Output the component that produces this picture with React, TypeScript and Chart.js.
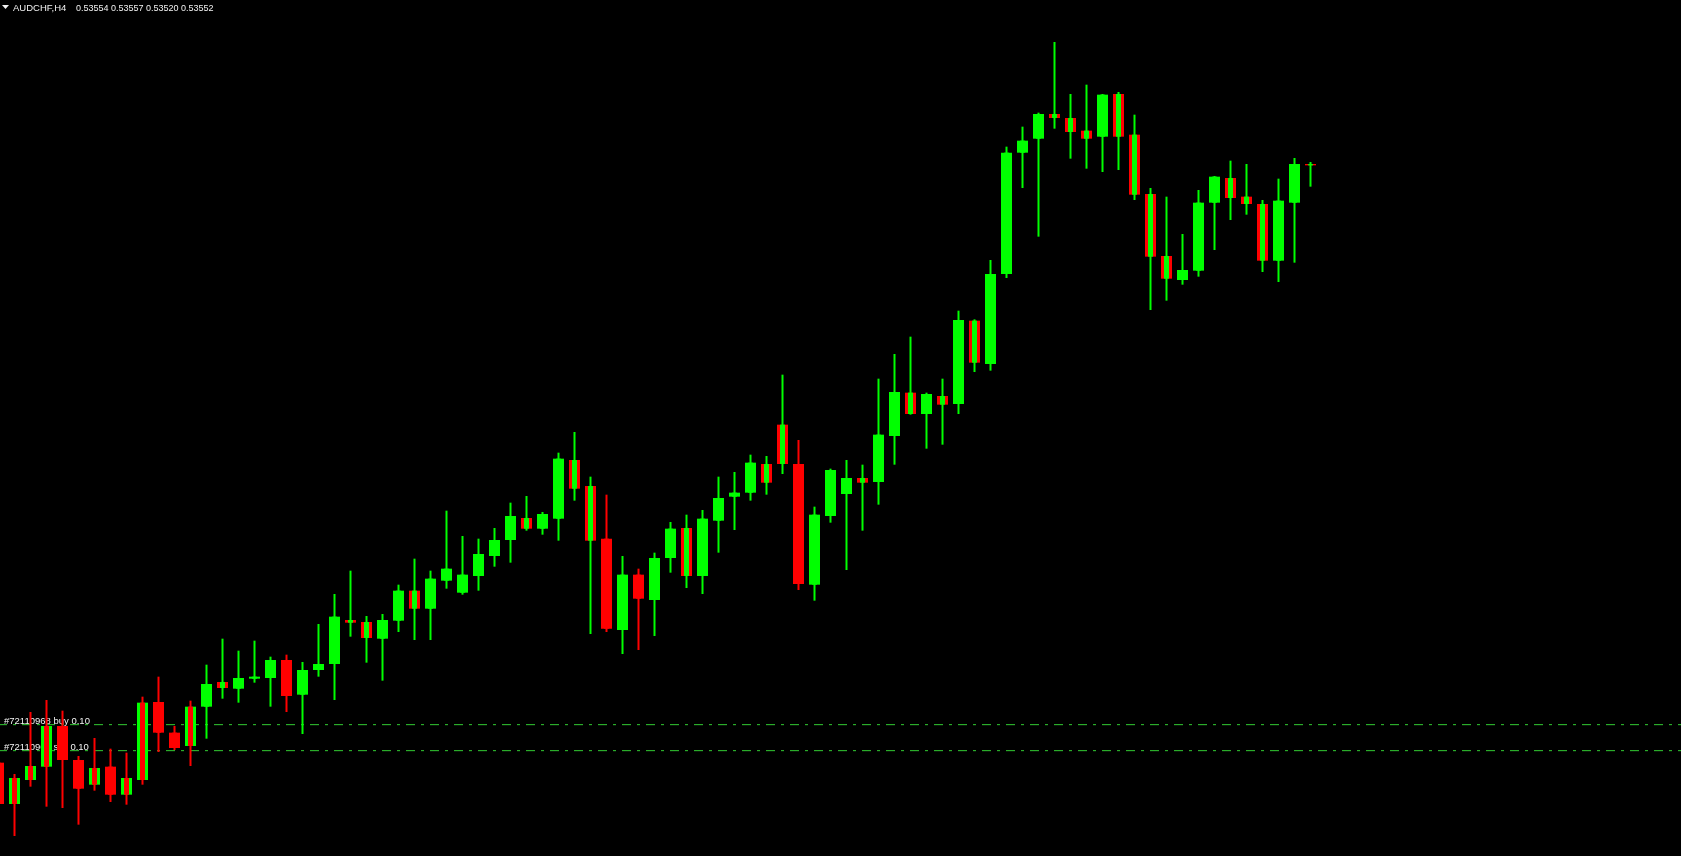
import { useEffect, useRef } from "react";
import { Chart, registerables } from "chart.js";

Chart.register(...registerables);

// ---- data (AUDCHF, H4) ----
const SYMBOL = "AUDCHF,H4";

const OPEN = [
  0.52656, 0.52594, 0.52630, 0.52650, 0.52711, 0.52660, 0.52623, 0.52650, 0.52608, 0.52630,
  0.52747, 0.52701, 0.52681, 0.52740, 0.52777, 0.52767, 0.52782, 0.52783, 0.52810, 0.52758,
  0.52795, 0.52804, 0.52870, 0.52867, 0.52842, 0.52869, 0.52914, 0.52887, 0.52929, 0.52911,
  0.52936, 0.52966, 0.52990, 0.53023, 0.53007, 0.53022, 0.53110, 0.53071, 0.52992, 0.52855,
  0.52938, 0.52900, 0.52963, 0.53008, 0.52936, 0.53019, 0.53055, 0.53061, 0.53104, 0.53163,
  0.53104, 0.52923, 0.53026, 0.53059, 0.53083, 0.53077, 0.53146, 0.53211, 0.53179, 0.53206,
  0.53194, 0.53319, 0.53254, 0.53389, 0.53571, 0.53592, 0.53629, 0.53623, 0.53604, 0.53595,
  0.53659, 0.53598, 0.53509, 0.53416, 0.53380, 0.53394, 0.53496, 0.53533, 0.53505, 0.53494,
  0.53409, 0.53496, 0.53554,
];

const HIGH = [
  0.52668, 0.52639, 0.52732, 0.52750, 0.52734, 0.52666, 0.52693, 0.52677, 0.52671, 0.52755,
  0.52785, 0.52711, 0.52749, 0.52803, 0.52842, 0.52824, 0.52839, 0.52815, 0.52818, 0.52807,
  0.52864, 0.52909, 0.52944, 0.52876, 0.52879, 0.52923, 0.52962, 0.52944, 0.53034, 0.52996,
  0.52992, 0.53008, 0.53046, 0.53056, 0.53032, 0.53121, 0.53152, 0.53085, 0.53058, 0.52966,
  0.52947, 0.52971, 0.53017, 0.53028, 0.53035, 0.53085, 0.53092, 0.53118, 0.53116, 0.53238,
  0.53140, 0.53040, 0.53097, 0.53110, 0.53103, 0.53232, 0.53269, 0.53295, 0.53211, 0.53232,
  0.53334, 0.53321, 0.53410, 0.53580, 0.53610, 0.53631, 0.53737, 0.53659, 0.53673, 0.53659,
  0.53662, 0.53628, 0.53518, 0.53505, 0.53449, 0.53515, 0.53536, 0.53559, 0.53554, 0.53500,
  0.53532, 0.53563, 0.53557,
];

const LOW = [
  0.52582, 0.52546, 0.52620, 0.52590, 0.52588, 0.52563, 0.52614, 0.52597, 0.52593, 0.52623,
  0.52672, 0.52675, 0.52651, 0.52692, 0.52752, 0.52746, 0.52776, 0.52740, 0.52732, 0.52699,
  0.52785, 0.52750, 0.52845, 0.52806, 0.52779, 0.52852, 0.52840, 0.52840, 0.52917, 0.52908,
  0.52914, 0.52950, 0.52956, 0.53004, 0.52998, 0.52989, 0.53049, 0.52849, 0.52852, 0.52819,
  0.52825, 0.52846, 0.52941, 0.52918, 0.52909, 0.52971, 0.53005, 0.53049, 0.53058, 0.53089,
  0.52915, 0.52899, 0.53016, 0.52945, 0.53004, 0.53043, 0.53103, 0.53178, 0.53127, 0.53133,
  0.53179, 0.53242, 0.53244, 0.53383, 0.53518, 0.53445, 0.53607, 0.53562, 0.53547, 0.53542,
  0.53545, 0.53500, 0.53335, 0.53349, 0.53373, 0.53385, 0.53425, 0.53470, 0.53478, 0.53392,
  0.53377, 0.53406, 0.53520,
];

const CLOSE = [
  0.52594, 0.52633, 0.52651, 0.52711, 0.52660, 0.52617, 0.52648, 0.52608, 0.52633, 0.52746,
  0.52701, 0.52678, 0.52740, 0.52774, 0.52768, 0.52783, 0.52785, 0.52810, 0.52756, 0.52795,
  0.52804, 0.52875, 0.52866, 0.52843, 0.52870, 0.52914, 0.52887, 0.52932, 0.52947, 0.52938,
  0.52969, 0.52990, 0.53026, 0.53007, 0.53029, 0.53112, 0.53067, 0.52989, 0.52857, 0.52938,
  0.52902, 0.52963, 0.53007, 0.52936, 0.53022, 0.53053, 0.53061, 0.53106, 0.53076, 0.53104,
  0.52924, 0.53028, 0.53095, 0.53083, 0.53076, 0.53148, 0.53212, 0.53179, 0.53209, 0.53193,
  0.53320, 0.53256, 0.53389, 0.53571, 0.53589, 0.53629, 0.53623, 0.53602, 0.53592, 0.53658,
  0.53595, 0.53508, 0.53415, 0.53382, 0.53395, 0.53496, 0.53535, 0.53503, 0.53494, 0.53409,
  0.53499, 0.53554, 0.53552,
];

// colour of the wick / centre stripe (1 = up signal, -1 = down signal)
const SIGNAL = [
  -1, -1, -1, -1, -1, -1, -1, -1, -1, -1,
  -1, -1, -1, 1, 1, 1, 1, 1, -1, 1,
  1, 1, 1, 1, 1, 1, 1, 1, 1, 1,
  1, 1, 1, 1, 1, 1, 1, 1, -1, 1,
  -1, 1, 1, 1, 1, 1, 1, 1, 1, 1,
  -1, 1, 1, 1, 1, 1, 1, 1, 1, 1,
  1, 1, 1, 1, 1, 1, 1, 1, 1, 1,
  1, 1, 1, 1, 1, 1, 1, 1, 1, 1,
  1, 1, 1,
];

const ORDER_LABELS = ["#72110968 buy 0.10", "#72110969 sell 0.10"];
const ORDER_PRICES = [0.52713, 0.52674];

// visible window of the chart
const X_MIN = 0.09375;
const X_MAX = X_MIN + 1681 / 16;
const Y_MAX = 0.538;
const Y_MIN = 0.52516;

const GREEN = "#00ff00";
const RED = "#ff0000";
const LINE_GREEN = "#32cd32";
const TEXT = "#f2f2f2";

export default function App() {
  const ref = useRef<HTMLCanvasElement>(null);

  useEffect(() => {
    document.body.style.margin = "0";
    document.body.style.background = "#000";
    const canvas = ref.current;
    if (!canvas) return;

    const idx = OPEN.map((_, i) => i);
    const bodyData = idx.map((i) => ({ x: i, y: [OPEN[i], CLOSE[i]] }));
    const wickData = idx.map((i) => ({ x: i, y: [LOW[i], HIGH[i]] }));
    const dirColor = (c: any) =>
      CLOSE[c.dataIndex] >= OPEN[c.dataIndex] ? GREEN : RED;
    const sigColor = (c: any) => (SIGNAL[c.dataIndex] > 0 ? GREEN : RED);

    const lineSets = ORDER_PRICES.map((p) => ({
      type: "line" as const,
      data: [
        { x: X_MIN, y: p },
        { x: X_MAX, y: p },
      ],
      borderColor: LINE_GREEN,
      borderWidth: 1,
      borderDash: [9, 6, 3, 6],
      borderDashOffset: 2,
      pointRadius: 0,
      fill: false,
      order: 10,
    }));

    const textPlugin = {
      id: "mt4text",
      beforeDatasetsDraw(chart: any) {
        const ctx = chart.ctx;
        const y = chart.scales.y;
        ctx.save();
        ctx.font = '9.5px "Liberation Sans", Arial, sans-serif';
        ctx.fillStyle = TEXT;
        ctx.textBaseline = "alphabetic";
        ORDER_LABELS.forEach((t, i) => {
          const py = y.getPixelForValue(ORDER_PRICES[i]);
          ctx.fillText(t, 4, Math.round(py) - 1);
        });
        ctx.restore();
      },
      afterDraw(chart: any) {
        const ctx = chart.ctx;
        ctx.save();
        ctx.fillStyle = TEXT;
        ctx.beginPath();
        ctx.moveTo(2, 5);
        ctx.lineTo(9, 5);
        ctx.lineTo(5.5, 9);
        ctx.closePath();
        ctx.fill();
        ctx.font = '9.5px "Liberation Sans", Arial, sans-serif';
        ctx.textBaseline = "alphabetic";
        ctx.fillText(SYMBOL, 13, 11);
        ctx.font = '9px "Liberation Sans", Arial, sans-serif';
        const vals = [OPEN, HIGH, LOW, CLOSE].map((a) => a[a.length - 1].toFixed(5));
        vals.forEach((v, i) => ctx.fillText(v, 76 + 35 * i, 11));
        ctx.restore();
      },
    };

    const chart = new Chart(canvas, {
      type: "bar",
      data: {
        datasets: [
          ...lineSets,
          {
            type: "bar",
            data: bodyData as any,
            backgroundColor: dirColor,
            barThickness: 11,
            grouped: false,
            borderWidth: 0,
            inflateAmount: 0,
            order: 5,
          },
          {
            type: "bar",
            data: bodyData as any,
            backgroundColor: sigColor,
            barThickness: 5,
            grouped: false,
            borderWidth: 0,
            inflateAmount: 0,
            order: 4,
          },
          {
            type: "bar",
            data: wickData as any,
            backgroundColor: sigColor,
            barThickness: 2,
            grouped: false,
            borderWidth: 0,
            inflateAmount: 0,
            order: 3,
          },
        ] as any,
      },
      options: {
        animation: false,
        responsive: false,
        layout: { padding: 0 },
        plugins: {
          legend: { display: false },
          title: { display: false },
          tooltip: { enabled: false },
        },
        scales: {
          x: { type: "linear", min: X_MIN, max: X_MAX, display: false, offset: false, grace: 0 },
          y: { type: "linear", min: Y_MIN, max: Y_MAX, display: false, grace: 0 },
        },
      },
      plugins: [textPlugin],
    });

    return () => chart.destroy();
  }, []);

  return (
    <div
      style={{
        position: "fixed",
        left: 0,
        top: 0,
        width: 1681,
        height: 856,
        background: "#000",
      }}
    >
      <canvas ref={ref} width={1681} height={856} style={{ display: "block" }} />
    </div>
  );
}
